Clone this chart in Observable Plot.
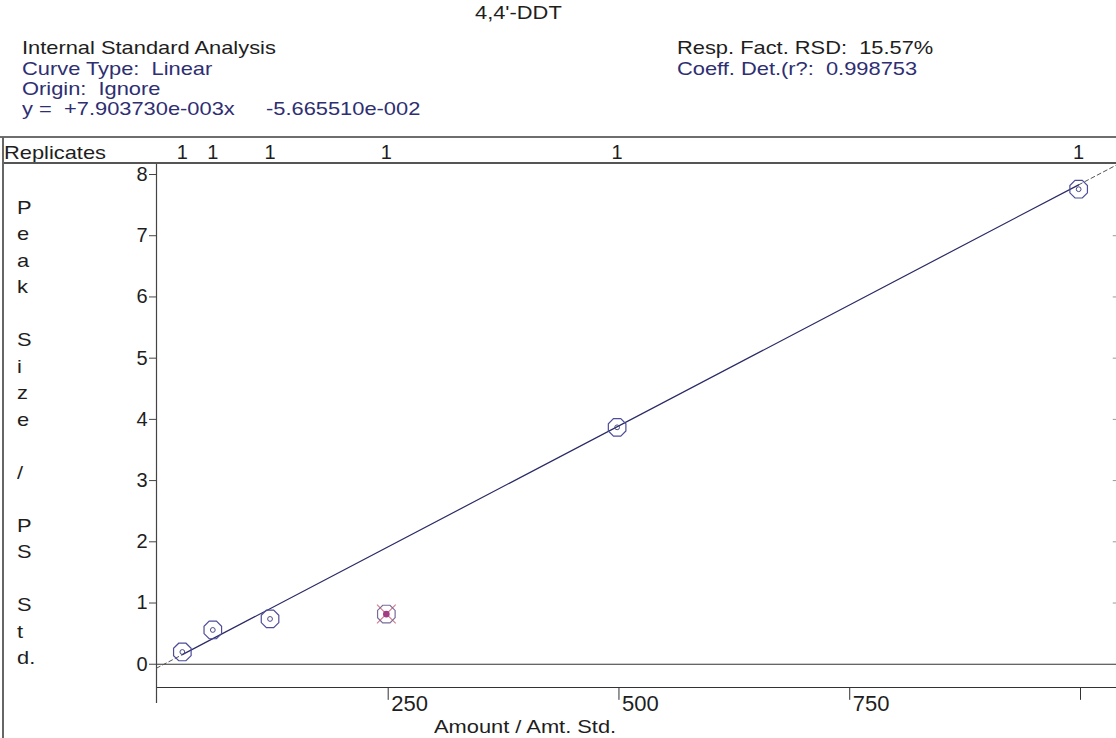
<!DOCTYPE html>
<html>
<head>
<meta charset="utf-8">
<script src="https://cdn.jsdelivr.net/npm/d3@7"></script>
<script src="https://cdn.jsdelivr.net/npm/@observablehq/plot@0.6"></script>
<style>
  body { margin: 0; background: #fff; }
  #wrap { position: relative; width: 1116px; height: 738px; overflow: hidden; background: #fff;
          font-family: "Liberation Sans", Arial, sans-serif; }
  #wrap svg { position: absolute; left: 0; top: 0; }
  .t { position: absolute; white-space: pre; font-size: 19px; line-height: 1; transform-origin: 0 0;
       transform: scaleX(1.15); color: #1e1e1e; }
  .navy { color: #2e2e72; }
  .hl { position: absolute; }
  .ylab { position: absolute; left: 17px; font-size: 19px; line-height: 26.5px; white-space: pre;
          transform-origin: 0 0; transform: scaleX(1.15); color: #1e1e1e; }
</style>
</head>
<body>
<div id="wrap"></div>
<script>
// ---- data ----
const amounts    = [27, 60, 122, 248, 498, 998];
const responses  = [0.20, 0.56, 0.74, 0.82, 3.87, 7.76];
const excluded   = [false, false, false, true, false, false];
const replicates = [1, 1, 1, 1, 1, 1];
const slope = 7.903730e-3;
const intercept = -5.665510e-2;
const yTicks = [0, 1, 2, 3, 4, 5, 6, 7, 8];
const xTicks = [250, 500, 750, 1000];
const title = "4,4'-DDT";
const headerLeft = ["Internal Standard Analysis", "Curve Type:  Linear", "Origin:  Ignore"];
const eqParts = ["y =", "+7.903730e-003x", "-5.665510e-002"];
const headerRight = ["Resp. Fact. RSD:  15.57%", "Coeff. Det.(r?:  0.998753"];
const yLabelChars = ["P","e","a","k","","S","i","z","e","","/","","P","S","","S","t","d."];
const xLabel = "Amount / Amt. Std.";

const xDomain = [-1, 1039];
const yDomain = [-0.38, 8.18];

const points = amounts.map((a, i) => ({amount: a, response: responses[i], excluded: excluded[i], reps: replicates[i]}));
const incl = points.filter(d => !d.excluded);
const excl = points.filter(d => d.excluded);
const fit = x => slope * x + intercept;
const xFirst = d3.min(amounts), xLast = d3.max(amounts);
const solid = [xFirst, xLast].map(x => ({x, y: fit(x)}));
const dashL = [xDomain[0], xFirst].map(x => ({x, y: fit(x)}));
const dashR = [xLast, xDomain[1]].map(x => ({x, y: fit(x)}));
// tick labels that fit inside the page (the 1000 label is off the edge in the reference)
const xTickLabels = xTicks.filter(d => d < xDomain[1] - 60);

const octagon = {
  draw(ctx, size) {
    const r = Math.sqrt(size / Math.PI);
    for (let k = 0; k < 8; k++) {
      const a = Math.PI / 8 + k * Math.PI / 4;
      const px = r * Math.cos(a), py = r * Math.sin(a);
      if (k === 0) ctx.moveTo(px, py); else ctx.lineTo(px, py);
    }
    ctx.closePath();
  }
};
const cross = {
  draw(ctx, size) {
    const r = Math.sqrt(size / Math.PI) * 0.75;
    ctx.moveTo(-r, -r); ctx.lineTo(r, r);
    ctx.moveTo(r, -r); ctx.lineTo(-r, r);
  }
};

const chart = Plot.plot({
  width: 1116, height: 738,
  marginTop: 163, marginBottom: 51, marginLeft: 156, marginRight: 0,
  x: {domain: xDomain, axis: null},
  y: {domain: yDomain, axis: null},
  style: {fontFamily: '"Liberation Sans", Arial, sans-serif', background: "transparent", overflow: "visible", color: "#1e1e1e"},
  marks: [
    // axes & frame lines
    Plot.ruleY([0], {stroke: "#333", strokeWidth: 1.2}),
    Plot.ruleY([yDomain[0]], {stroke: "#333", strokeWidth: 1.2}),
    Plot.ruleX([xDomain[0]], {y1: yDomain[1], y2: -0.64, stroke: "#444", strokeWidth: 1.2}),
    Plot.ruleX(xTicks, {y1: yDomain[0], y2: -0.59, stroke: "#333"}),
    Plot.text(xTickLabels, {x: d => d, y: yDomain[0], text: d => String(d), textAnchor: "start", lineAnchor: "top",
      dx: 3, dy: 8, fontSize: 22, fill: "#1e1e1e"}),
    Plot.axisY(yTicks, {anchor: "left", tickSize: 7, tickPadding: 2, fontSize: 20, label: null,
      tickFormat: d => String(d), stroke: "#444", fill: "#1e1e1e"}),
    Plot.ruleY(yTicks.filter(d => d > 0 && d < 8), {x1: xDomain[1] - 3.5, x2: xDomain[1], stroke: "#999"}),
    // replicate counts above frame
    Plot.text(points, {x: "amount", text: d => String(d.reps), frameAnchor: "top", lineAnchor: "middle",
      dy: -11, fontSize: 20, fill: "#1e1e1e"}),
    // calibration line
    Plot.line(dashL, {x: "x", y: "y", stroke: "#555", strokeWidth: 1, strokeDasharray: "4,3"}),
    Plot.line(dashR, {x: "x", y: "y", stroke: "#555", strokeWidth: 1, strokeDasharray: "4,3"}),
    Plot.line(solid, {x: "x", y: "y", stroke: "#2a2a66", strokeWidth: 1.2}),
    // included points
    Plot.dot(incl, {x: "amount", y: "response", r: 9.5, symbol: octagon, stroke: "#4d4d9a", strokeWidth: 1.2, fill: "none"}),
    Plot.dot(incl, {x: "amount", y: "response", r: 2.4, stroke: "#4a4a8a", strokeWidth: 1, fill: "none"}),
    // excluded point
    Plot.dot(excl, {x: "amount", y: "response", r: 12.5, symbol: cross, stroke: "#d27a8a", strokeWidth: 1.1}),
    Plot.dot(excl, {x: "amount", y: "response", r: 9.5, symbol: octagon, stroke: "#7a6a9a", strokeWidth: 1.2, fill: "none"}),
    Plot.dot(excl, {x: "amount", y: "response", r: 2.6, fill: "#a23c84", stroke: "#a23c84"})
  ]
});

const wrap = document.getElementById("wrap");
wrap.appendChild(chart);

function addText(txt, left, baseline, cls, center) {
  const d = document.createElement("div");
  d.className = "t " + (cls || "");
  d.textContent = txt;
  d.style.top = (baseline - 16.1) + "px";
  d.style.left = left + "px";
  wrap.appendChild(d);
  if (center) {
    const w = d.getBoundingClientRect().width;
    d.style.left = (left - w / 2) + "px";
  }
  return d;
}
function addLine(left, top, width, height, color) {
  const d = document.createElement("div");
  d.className = "hl";
  Object.assign(d.style, {left: left + "px", top: top + "px", width: width + "px", height: height + "px", background: color});
  wrap.appendChild(d);
}

addText(title, 518, 19, "", true);
addText(headerLeft[0], 22, 54, "");
addText(headerLeft[1], 22, 75, "navy");
addText(headerLeft[2], 22, 95, "navy");
addText(eqParts[0], 22, 115, "navy");
addText(eqParts[1], 64, 115, "navy");
addText(eqParts[2], 266, 115, "navy");
addText(headerRight[0], 677, 54, "");
addText(headerRight[1], 677, 75, "navy");
addText("Replicates", 4, 159, "");
addText(xLabel, 525, 733, "", true);

// frame lines of the report
addLine(0, 136, 1116, 2, "#6e6e6e");
addLine(2, 162, 1114, 1.5, "#555");
addLine(2, 137, 1.5, 601, "#666");

const yl = document.createElement("div");
yl.className = "ylab";
yl.style.top = (208 - 13.25) + "px";
yl.textContent = yLabelChars.join("\n");
wrap.appendChild(yl);
</script>
</body>
</html>
